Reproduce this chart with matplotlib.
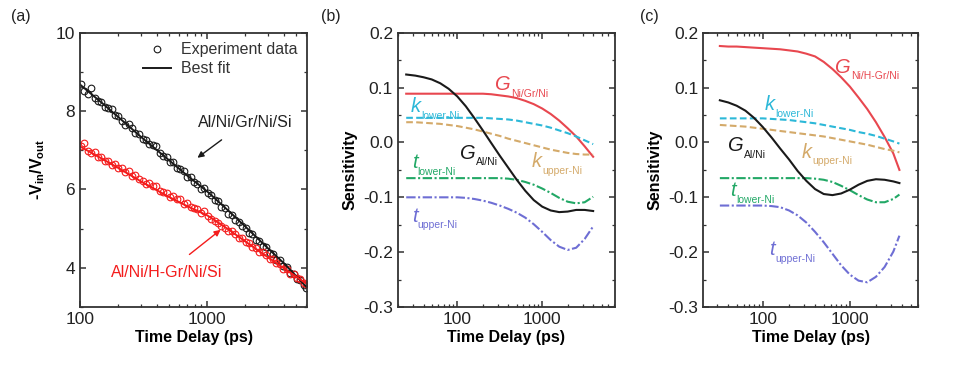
import numpy as np
import matplotlib
matplotlib.use("Agg")
import matplotlib.pyplot as plt
from matplotlib.ticker import FixedLocator, NullFormatter, LogLocator, MultipleLocator

plt.rcParams['font.family'] = ['Liberation Sans', 'DejaVu Sans']
plt.rcParams['mathtext.fontset'] = 'custom'
plt.rcParams['mathtext.rm'] = 'Liberation Sans'
plt.rcParams['mathtext.it'] = 'Liberation Sans:italic'
plt.rcParams['mathtext.bf'] = 'Liberation Sans:bold'

# ---------------- Panel (a) data ----------------
t_exp = [102, 108, 115, 122, 130, 138, 147, 156, 166, 177, 188, 200, 213, 227, 241, 257, 273,
         291, 310, 330, 351, 373, 397, 423, 450, 479, 509, 542, 577, 614, 653, 695, 740, 787,
         838, 891, 948, 1009, 1074, 1143, 1216, 1294, 1377, 1466, 1560, 1660, 1767, 1880, 2001,
         2129, 2266, 2411, 2566, 2731, 2906, 3093, 3291, 3502, 3727, 3966, 4221, 4491, 4779,
         5086, 5412, 5759, 6000]
gr_data = [8.70, 8.52, 8.45, 8.58, 8.33, 8.27, 8.24, 8.10, 8.09, 8.05, 7.90, 7.88, 7.74, 7.65,
           7.66, 7.58, 7.44, 7.42, 7.30, 7.27, 7.16, 7.14, 7.10, 6.93, 6.85, 6.84, 6.70, 6.69,
           6.55, 6.52, 6.47, 6.33, 6.31, 6.18, 6.15, 6.02, 6.03, 5.90, 5.85, 5.72, 5.70, 5.55,
           5.53, 5.38, 5.36, 5.22, 5.18, 5.06, 5.02, 4.88, 4.86, 4.72, 4.69, 4.55, 4.53, 4.38,
           4.36, 4.21, 4.19, 4.05, 4.02, 3.88, 3.85, 3.72, 3.68, 3.55, 3.48]
hgr_data = [7.12, 7.18, 6.98, 6.92, 6.96, 6.84, 6.83, 6.72, 6.74, 6.63, 6.64, 6.55, 6.56, 6.45,
            6.47, 6.35, 6.38, 6.26, 6.22, 6.14, 6.16, 6.08, 6.10, 5.97, 5.93, 5.90, 5.80, 5.84,
            5.75, 5.76, 5.62, 5.66, 5.55, 5.52, 5.50, 5.40, 5.44, 5.32, 5.25, 5.20, 5.15, 5.06,
            5.02, 4.95, 4.94, 4.86, 4.77, 4.75, 4.66, 4.63, 4.52, 4.50, 4.41, 4.40, 4.32, 4.23,
            4.22, 4.12, 4.09, 3.98, 3.96, 3.85, 3.84, 3.74, 3.72, 3.62, 3.58]
t_fit = [100, 150, 200, 300, 500, 700, 1000, 1500, 2000, 3000, 4000, 6000]
gr_fit = [8.68, 8.20, 7.85, 7.35, 6.75, 6.35, 5.95, 5.43, 5.05, 4.50, 4.12, 3.52]
hgr_fit = [7.10, 6.78, 6.55, 6.21, 5.81, 5.57, 5.34, 4.96, 4.67, 4.27, 3.99, 3.60]

# ---------------- Panel (b) data ----------------
t_b = [25, 32, 40, 50, 63, 79, 100, 126, 158, 200, 251, 316, 398, 501, 631, 794, 1000,
       1259, 1585, 1995, 2512, 3162, 3981]
b_G_NiGrNi = [0.089, 0.089, 0.089, 0.089, 0.089, 0.089, 0.089, 0.089, 0.089, 0.089, 0.088,
              0.086, 0.084, 0.081, 0.076, 0.070, 0.062, 0.052, 0.040, 0.026, 0.011, -0.007, -0.026]
b_G_AlNi = [0.124, 0.122, 0.119, 0.115, 0.108, 0.098, 0.084, 0.066, 0.045, 0.022, -0.001,
            -0.024, -0.046, -0.068, -0.088, -0.105, -0.117, -0.124, -0.127, -0.126, -0.123,
            -0.123, -0.125]
b_k_lower = [0.045, 0.045, 0.045, 0.045, 0.045, 0.045, 0.045, 0.045, 0.045, 0.045, 0.044,
             0.043, 0.042, 0.040, 0.037, 0.034, 0.031, 0.027, 0.022, 0.017, 0.011, 0.004, -0.003]
b_k_upper = [0.037, 0.037, 0.036, 0.035, 0.034, 0.032, 0.030, 0.027, 0.024, 0.020, 0.016,
             0.012, 0.007, 0.003, -0.001, -0.005, -0.009, -0.013, -0.016, -0.019, -0.021,
             -0.022, -0.022]
b_t_lower = [-0.065, -0.065, -0.065, -0.065, -0.065, -0.065, -0.065, -0.065, -0.065, -0.065,
             -0.065, -0.065, -0.066, -0.068, -0.072, -0.077, -0.084, -0.092, -0.101, -0.108,
             -0.111, -0.109, -0.099]
b_t_upper = [-0.100, -0.100, -0.100, -0.100, -0.100, -0.100, -0.100, -0.101, -0.103, -0.106,
             -0.110, -0.115, -0.121, -0.128, -0.137, -0.149, -0.163, -0.178, -0.190, -0.196,
             -0.192, -0.176, -0.153]

# ---------------- Panel (c) data ----------------
t_c = [32, 40, 50, 63, 79, 100, 126, 158, 200, 251, 316, 398, 501, 631, 794, 1000, 1259,
       1585, 1995, 2512, 3162, 3715]
c_G_NiHGrNi = [0.176, 0.175, 0.175, 0.174, 0.173, 0.172, 0.171, 0.170, 0.168, 0.166, 0.162,
               0.157, 0.147, 0.134, 0.119, 0.102, 0.082, 0.061, 0.037, 0.010, -0.020, -0.050]
c_G_AlNi = [0.077, 0.073, 0.067, 0.058, 0.045, 0.028, 0.009, -0.011, -0.031, -0.052, -0.070,
            -0.085, -0.094, -0.096, -0.093, -0.086, -0.077, -0.070, -0.067, -0.068, -0.071, -0.074]
c_k_lower = [0.044, 0.044, 0.044, 0.044, 0.044, 0.044, 0.043, 0.042, 0.041, 0.039, 0.037,
             0.035, 0.032, 0.029, 0.026, 0.023, 0.019, 0.016, 0.012, 0.007, 0.002, -0.002]
c_k_upper = [0.032, 0.031, 0.030, 0.029, 0.027, 0.025, 0.023, 0.021, 0.019, 0.017, 0.015,
             0.013, 0.011, 0.008, 0.005, 0.002, -0.001, -0.004, -0.008, -0.012, -0.015, -0.018]
c_t_lower = [-0.065, -0.065, -0.065, -0.065, -0.065, -0.065, -0.065, -0.065, -0.065, -0.065,
             -0.065, -0.066, -0.068, -0.072, -0.079, -0.087, -0.096, -0.104, -0.109, -0.109,
             -0.103, -0.095]
c_t_upper = [-0.115, -0.115, -0.115, -0.115, -0.115, -0.115, -0.116, -0.118, -0.124, -0.133,
             -0.146, -0.163, -0.182, -0.203, -0.224, -0.241, -0.252, -0.255, -0.245, -0.227,
             -0.199, -0.170]

RED_A = '#f41c1c'
RED = '#e8474f'
CYAN = '#2cb8d8'
TAN = '#d4aa6a'
GREEN = '#22a866'
PURPLE = '#6e6ed4'
BLACK = '#1a1a1a'

fig = plt.figure(figsize=(9.56, 3.65), dpi=100)
axa = fig.add_axes([0.0837, 0.159, 0.2375, 0.751])
axb = fig.add_axes([0.4163, 0.159, 0.227, 0.751])
axc = fig.add_axes([0.7354, 0.159, 0.225, 0.751])


def style(ax):
    for s in ax.spines.values():
        s.set_linewidth(1.3)
        s.set_color('#333333')
    ax.tick_params(which='both', direction='in', top=True, right=True, colors='#333333',
                   labelcolor='#222222', labelsize=12.5)
    ax.tick_params(which='major', length=4.5, width=1.1)
    ax.tick_params(which='minor', length=2.5, width=0.9)
    ax.set_xscale('log')
    ax.xaxis.set_major_locator(FixedLocator([100, 1000]))
    ax.set_xticklabels(['100', '1000'])
    ax.xaxis.set_minor_locator(LogLocator(base=10, subs=np.arange(2, 10)))
    ax.xaxis.set_minor_formatter(NullFormatter())
    ax.set_xlabel('Time Delay (ps)', fontsize=11.5, fontweight='bold', labelpad=2)


# ---- (a)
style(axa)
axa.plot(t_exp, gr_data, 'o', ms=4.8, mfc='none', mec=BLACK, mew=0.8, label='Experiment data')
axa.plot(t_exp, hgr_data, 'o', ms=4.8, mfc='none', mec=RED_A, mew=0.8)
axa.plot(t_fit, gr_fit, '-', color=BLACK, lw=1.4, label='Best fit')
axa.plot(t_fit, hgr_fit, '-', color=RED_A, lw=1.4)
axa.set_xlim(100, 6100)
axa.set_ylim(3, 10)
axa.set_yticks([4, 6, 8, 10])
axa.yaxis.set_minor_locator(MultipleLocator(1))
axa.set_ylabel(r'-$\mathbf{V}_{\mathbf{in}}$/$\mathbf{V}_{\mathbf{out}}$', fontsize=11.5,
               fontweight='bold', labelpad=6)
leg = axa.legend(loc='upper right', frameon=False, fontsize=11.5, handlelength=1.8,
                 borderaxespad=0.2, handletextpad=0.6, labelspacing=0.25)
for txt in leg.get_texts():
    txt.set_color('#333333')
axa.annotate('Al/Ni/Gr/Ni/Si', xy=(838, 6.81), xytext=(2000, 7.72), ha='center', va='center',
             fontsize=11.5, color='#222222',
             arrowprops=dict(arrowstyle='-|>', color=BLACK, lw=1.0, shrinkA=9, shrinkB=0,
                             mutation_scale=9))
axa.annotate('Al/Ni/H-Gr/Ni/Si', xy=(1274, 4.97), xytext=(480, 3.88), ha='center', va='center',
             fontsize=11.5, color=RED_A,
             arrowprops=dict(arrowstyle='-|>', color=RED_A, lw=1.0, shrinkA=9, shrinkB=0,
                             mutation_scale=9))

# ---- (b), (c)
def sens(ax):
    style(ax)
    ax.set_xlim(20, 7200)
    ax.set_ylim(-0.3, 0.2)
    ax.set_yticks([-0.3, -0.2, -0.1, 0.0, 0.1, 0.2])
    ax.set_yticklabels(['-0.3', '-0.2', '-0.1', '0.0', '0.1', '0.2'])
    ax.yaxis.set_minor_locator(MultipleLocator(0.05))
    ax.set_ylabel('Sensitivity', fontsize=11.5, fontweight='bold', labelpad=4)


sens(axb)
sens(axc)
axc.set_xlim(20.5, 6100)

dash = (0, (3.2, 1.6))
dashdot = (0, (4.5, 1.2, 1.0, 1.2))
lw = 1.5
for ax, t, G1, G2, kl, ku, tl, tu in [
        (axb, t_b, b_G_NiGrNi, b_G_AlNi, b_k_lower, b_k_upper, b_t_lower, b_t_upper),
        (axc, t_c, c_G_NiHGrNi, c_G_AlNi, c_k_lower, c_k_upper, c_t_lower, c_t_upper)]:
    ax.plot(t, G1, color=RED, lw=lw)
    ax.plot(t, kl, color=CYAN, lw=lw, ls=dash)
    ax.plot(t, ku, color=TAN, lw=lw, ls=dash)
    ax.plot(t, tl, color=GREEN, lw=lw, ls=dashdot)
    ax.plot(t, tu, color=PURPLE, lw=lw, ls=dashdot)
    ax.plot(t, G2, color=BLACK, lw=lw)


def lab(ax, x, y, main, sub, color):
    m = ax.text(x, y, main, color=color, fontsize=14.5, style='italic', ha='left', va='baseline')
    ax.annotate(sub, xy=(1, 0), xycoords=m, xytext=(0.2, -3.2), textcoords='offset points',
                color=color, fontsize=7.5, ha='left', va='bottom')


lab(axb, 280, 0.095, 'G', 'Ni/Gr/Ni', RED)
lab(axb, 28, 0.055, 'k', 'lower-Ni', CYAN)
lab(axb, 108, -0.030, 'G', 'Al/Ni', BLACK)
lab(axb, 760, -0.045, 'k', 'upper-Ni', TAN)
lab(axb, 29, -0.047, 't', 'lower-Ni', GREEN)
lab(axb, 29, -0.145, 't', 'upper-Ni', PURPLE)

lab(axc, 680, 0.127, 'G', 'Ni/H-Gr/Ni', RED)
lab(axc, 105, 0.059, 'k', 'lower-Ni', CYAN)
lab(axc, 40, -0.016, 'G', 'Al/Ni', BLACK)
lab(axc, 280, -0.028, 'k', 'upper-Ni', TAN)
lab(axc, 42, -0.098, 't', 'lower-Ni', GREEN)
lab(axc, 118, -0.206, 't', 'upper-Ni', PURPLE)

fig.text(0.012, 0.955, '(a)', fontsize=11.5, color='#222222', va='center')
fig.text(0.336, 0.955, '(b)', fontsize=11.5, color='#222222', va='center')
fig.text(0.669, 0.955, '(c)', fontsize=11.5, color='#222222', va='center')

fig.savefig('out.png', dpi=100)
